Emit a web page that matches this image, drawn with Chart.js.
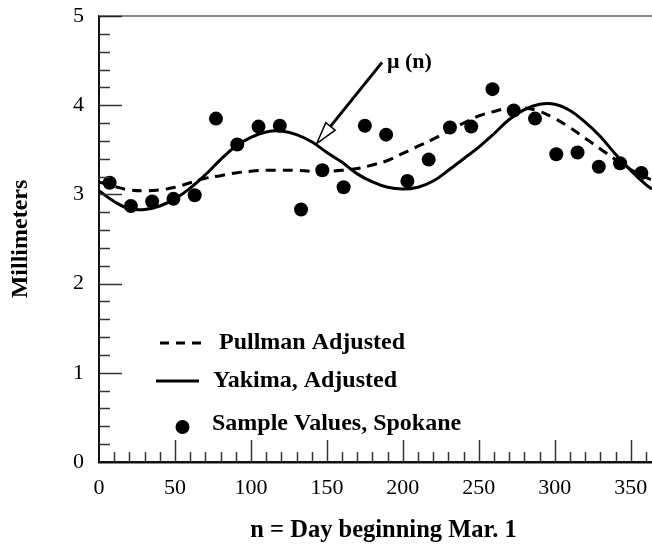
<!DOCTYPE html>
<html><head><meta charset="utf-8">
<script src="https://cdn.jsdelivr.net/npm/chart.js@4"></script>
<style>html,body{margin:0;padding:0;background:#fff;}canvas{display:block;}</style>
</head><body>
<canvas id="c" width="652" height="551"></canvas>
<script>
const curveDays = [0,10,20,30,40,50,60,70,80,90,100,110,120,130,140,150,160,170,180,190,200,210,220,230,240,250,260,270,280,290,300,310,320,330,340,350,360,364];
const pullman = [3.14,3.09,3.05,3.04,3.05,3.08,3.13,3.18,3.21,3.24,3.26,3.27,3.27,3.27,3.26,3.26,3.27,3.29,3.33,3.38,3.46,3.54,3.62,3.71,3.80,3.88,3.93,3.97,3.97,3.93,3.85,3.75,3.63,3.51,3.39,3.28,3.19,3.16];
const yakima = [3.04,2.92,2.84,2.83,2.87,2.95,3.07,3.22,3.39,3.54,3.64,3.70,3.71,3.67,3.59,3.47,3.36,3.23,3.14,3.08,3.06,3.08,3.15,3.27,3.40,3.53,3.68,3.84,3.95,4.01,4.01,3.94,3.81,3.65,3.45,3.27,3.11,3.06];
const sampleDays = [7,21,35,49,63,77,91,105,119,133,147,161,175,189,203,217,231,245,259,273,287,301,315,329,343,357];
const spokane = [3.13,2.87,2.92,2.95,2.99,3.85,3.56,3.76,3.77,2.83,3.27,3.08,3.77,3.67,3.15,3.39,3.75,3.76,4.18,3.94,3.85,3.45,3.47,3.31,3.35,3.24];
const xTickValues = [0,50,100,150,200,250,300,350];
const yTickValues = [0,1,2,3,4,5];
const seriesLabels = ['Pullman Adjusted','Yakima, Adjusted','Sample Values, Spokane'];
const xTitle = 'n = Day beginning Mar. 1';
const yTitle = 'Millimeters';
const annotationText = 'μ (n)';
const annotationTip = [143.3, 3.57];
const annotationLabelAt = [186.3, 4.48];

const SERIF = '"Liberation Serif","Times New Roman",serif';

const decorations = {
  id: 'decorations',
  afterDatasetsDraw(chart) {
    const {ctx, chartArea: a, scales: {x, y}} = chart;
    ctx.save();
    ctx.strokeStyle = '#8a8a8a';
    ctx.lineWidth = 2;
    ctx.beginPath(); ctx.moveTo(a.left, a.top); ctx.lineTo(a.right, a.top); ctx.stroke();
    ctx.strokeStyle = '#333';
    ctx.lineWidth = 1.5;
    for (let k = 1; k <= 36; k++) {
      const v = k * 10;
      const px = Math.round(x.getPixelForValue(v)) + 0.5;
      const len = (v % 50 === 0) ? 22 : 10;
      ctx.beginPath(); ctx.moveTo(px, a.bottom); ctx.lineTo(px, a.bottom - len); ctx.stroke();
    }
    for (let k = 1; k <= 25; k++) {
      const v = k / 5;
      const py = Math.round(y.getPixelForValue(v)) + 0.5;
      const len = (k % 5 === 0) ? 23 : 11;
      ctx.strokeStyle = (k === 25) ? '#222' : '#333';
      ctx.beginPath(); ctx.moveTo(a.left, py); ctx.lineTo(a.left + len, py); ctx.stroke();
    }
    ctx.fillStyle = '#000';
    ctx.strokeStyle = '#000';
    ctx.lineWidth = 3;
    ctx.setLineDash([9, 7]);
    ctx.beginPath(); ctx.moveTo(160, 343); ctx.lineTo(204, 343); ctx.stroke();
    ctx.setLineDash([]);
    ctx.beginPath(); ctx.moveTo(156, 381); ctx.lineTo(199, 381); ctx.stroke();
    ctx.beginPath(); ctx.arc(182.5, 427, 7, 0, Math.PI * 2); ctx.fill();
    ctx.font = 'bold 24px ' + SERIF;
    ctx.textBaseline = 'middle';
    ctx.textAlign = 'left';
    ctx.fillText(seriesLabels[0], 219, 343);
    ctx.fillText(seriesLabels[1], 213, 381);
    ctx.fillText(seriesLabels[2], 212, 424);
    const tx = x.getPixelForValue(annotationTip[0]), ty = y.getPixelForValue(annotationTip[1]);
    const sx = x.getPixelForValue(annotationLabelAt[0]), sy = y.getPixelForValue(annotationLabelAt[1]);
    const dx = tx - sx, dy = ty - sy, L = Math.hypot(dx, dy);
    const ux = dx / L, uy = dy / L;
    const hl = 22, hw = 6;
    const bx = tx - ux * hl, by = ty - uy * hl;
    ctx.lineWidth = 3;
    ctx.beginPath(); ctx.moveTo(sx, sy); ctx.lineTo(bx, by); ctx.stroke();
    ctx.lineWidth = 1.5;
    ctx.fillStyle = '#fff';
    ctx.beginPath();
    ctx.moveTo(tx, ty);
    ctx.lineTo(bx - uy * hw, by + ux * hw);
    ctx.lineTo(bx + uy * hw, by - ux * hw);
    ctx.closePath(); ctx.fill(); ctx.stroke();
    ctx.fillStyle = '#000';
    ctx.font = 'bold 22px ' + SERIF;
    ctx.fillText(annotationText, sx + 5, sy);
    // x axis title (centred as in the original, slightly right of the plot centre)
    ctx.font = 'bold 24.5px ' + SERIF;
    ctx.textAlign = 'center';
    ctx.fillText(xTitle, 383.5, 531);
    ctx.restore();
  }
};

function noPad(s) { s.paddingTop = 0; s.paddingBottom = 0; s.paddingLeft = 0; s.paddingRight = 0; }

new Chart(document.getElementById('c'), {
  data: {
    datasets: [
      {
        type: 'scatter', label: seriesLabels[2], order: 0,
        data: sampleDays.map((d, i) => ({x: d, y: spokane[i]})),
        backgroundColor: '#000', borderColor: '#000', pointRadius: 7, pointHoverRadius: 7, borderWidth: 0
      },
      {
        type: 'line', label: seriesLabels[0], order: 1,
        data: curveDays.map((d, i) => ({x: d, y: pullman[i]})),
        borderColor: '#000', borderWidth: 3, borderDash: [10, 7], pointRadius: 0,
        fill: false, tension: 0.4
      },
      {
        type: 'line', label: seriesLabels[1], order: 2,
        data: curveDays.map((d, i) => ({x: d, y: yakima[i]})),
        borderColor: '#000', borderWidth: 3, pointRadius: 0,
        fill: false, tension: 0.4
      }
    ]
  },
  options: {
    responsive: false,
    animation: false,
    devicePixelRatio: 1,
    layout: {autoPadding: false, padding: {top: 16, right: 0, left: 0, bottom: 0}},
    plugins: {legend: {display: false}, tooltip: {enabled: false}},
    scales: {
      x: {
        type: 'linear', min: 0, max: 364,
        afterFit(s) { s.height = 89; noPad(s); },
        afterBuildTicks(s) { s.ticks = xTickValues.map(v => ({value: v})); },
        grid: {display: false, drawTicks: false},
        border: {display: true, color: '#111', width: 2.5},
        ticks: {color: '#000', padding: 13, maxRotation: 0, font: {family: SERIF, size: 22}},
        title: {display: false}
      },
      y: {
        type: 'linear', min: 0, max: 5,
        afterFit(s) { s.width = 99; noPad(s); },
        afterBuildTicks(s) { s.ticks = yTickValues.map(v => ({value: v})); },
        grid: {display: false, drawTicks: false},
        border: {display: true, color: '#111', width: 2},
        ticks: {color: '#000', padding: 15, font: {family: SERIF, size: 22}},
        title: {display: true, text: yTitle, color: '#000', padding: {top: 6.5, bottom: 0}, font: {family: SERIF, size: 24, weight: 'bold'}}
      }
    }
  },
  plugins: [decorations]
});
</script>
</body></html>
